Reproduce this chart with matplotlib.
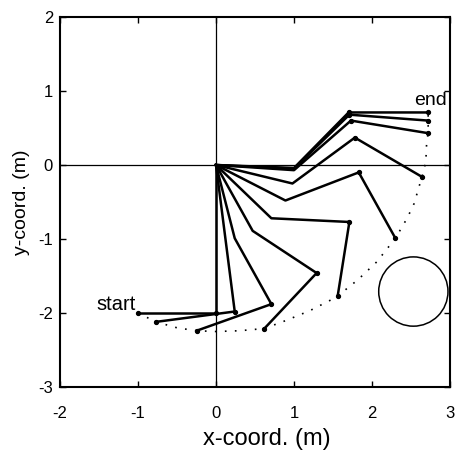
import numpy as np
import matplotlib
matplotlib.use("Agg")
import matplotlib.pyplot as plt
from matplotlib.patches import Ellipse

plt.rcParams['font.family'] = ['Liberation Sans', 'DejaVu Sans']
plt.rcParams['axes.unicode_minus'] = False

# joint positions of the 3-link arm, one row per configuration
# columns: elbow 1 (x, y), elbow 2 (x, y), end effector (x, y)
j1_x = [0.00, 0.12, 0.24, 0.47, 0.71, 0.89, 0.98, 1.00, 1.00, 1.00]
j1_y = [-1.00, -0.99, -0.99, -0.89, -0.72, -0.48, -0.25, -0.07, -0.05, -0.04]
j2_x = [0.00, 0.24, 0.71, 1.29, 1.71, 1.83, 1.78, 1.73, 1.71, 1.70]
j2_y = [-2.00, -1.98, -1.88, -1.46, -0.77, -0.10, 0.37, 0.60, 0.68, 0.71]
ee_x = [-1.00, -0.77, -0.25, 0.62, 1.56, 2.30, 2.64, 2.72, 2.72, 2.72]
ee_y = [-2.00, -2.12, -2.24, -2.21, -1.77, -0.99, -0.16, 0.43, 0.60, 0.71]

# end effector path (dotted)
path_x = [-1.00, -0.77, -0.50, -0.25, 0.00, 0.30, 0.62, 0.90, 1.20, 1.48, 1.56,
          1.82, 2.06, 2.30, 2.45, 2.54, 2.64, 2.69, 2.70, 2.72, 2.72, 2.72]
path_y = [-2.00, -2.12, -2.20, -2.24, -2.25, -2.24, -2.21, -2.10, -1.97, -1.82, -1.77,
          -1.55, -1.31, -0.99, -0.72, -0.52, -0.16, 0.04, 0.29, 0.43, 0.60, 0.71]

# obstacle
obs_x, obs_y, obs_r = 2.53, -1.71, 0.45

fig = plt.figure(figsize=(4.57, 4.53), dpi=100)
ax = fig.add_axes([0.1313, 0.1457, 0.8534, 0.8168])

ax.axhline(0, color='black', lw=0.9, zorder=1)
ax.axvline(0, color='black', lw=0.9, zorder=1)

ax.plot(path_x, path_y, color='black', lw=1.2, linestyle=(0, (1, 5)), zorder=2)

for i in range(len(ee_x)):
    xs = [0, j1_x[i], j2_x[i], ee_x[i]]
    ys = [0, j1_y[i], j2_y[i], ee_y[i]]
    ax.plot(xs, ys, color='black', lw=1.8, zorder=3,
            marker='o', markersize=2.8, markevery=[2, 3])

ax.add_patch(Ellipse((obs_x, obs_y), 2 * obs_r * 74 / 78 * 1.04, 2 * obs_r * 1.04,
                     fill=False, edgecolor='black', lw=1.1, zorder=3))

ax.text(-1.03, -1.96, 'start', ha='right', va='baseline', fontsize=14.5)
ax.text(2.96, 0.81, 'end', ha='right', va='baseline', fontsize=14)

ax.set_xlim(-2, 3)
ax.set_ylim(-3, 2)
ax.set_xticks([-2, -1, 0, 1, 2, 3])
ax.set_yticks([-3, -2, -1, 0, 1, 2])
ax.tick_params(direction='in', length=4, width=1, labelsize=12,
               top=True, right=True)
ax.tick_params(axis='x', pad=14)
ax.tick_params(axis='y', pad=5)
for s in ax.spines.values():
    s.set_linewidth(1.5)

ax.set_xlabel('x-coord. (m)', fontsize=17)
ax.set_ylabel('y-coord. (m)', fontsize=14, labelpad=6)
ax.xaxis.set_label_coords(0.53, -0.11)

fig.savefig('out.png', dpi=100)
